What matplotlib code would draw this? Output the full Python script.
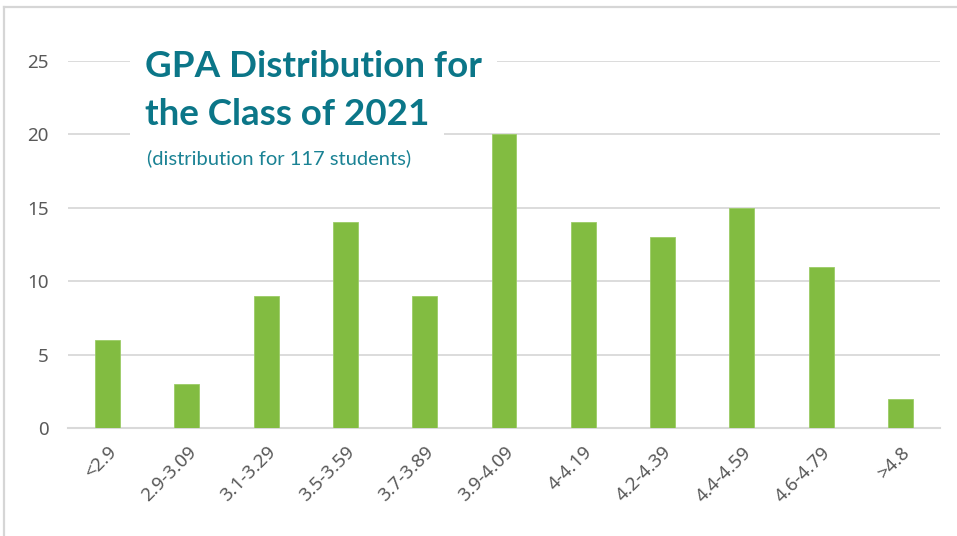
import matplotlib
matplotlib.use("Agg")
import matplotlib.pyplot as plt
from matplotlib.lines import Line2D

categories = ["<2.9", "2.9-3.09", "3.1-3.29", "3.5-3.59", "3.7-3.89", "3.9-4.09",
              "4-4.19", "4.2-4.39", "4.4-4.59", "4.6-4.79", ">4.8"]
counts = [6, 3, 9, 14, 9, 20, 14, 13, 15, 11, 2]
yticks = [0, 5, 10, 15, 20, 25]

W, H = 957, 536
fig = plt.figure(figsize=(W / 100, H / 100), dpi=100)
fig.patch.set_facecolor("white")
ax = fig.add_axes([68 / W, 1 - 428 / H, (940 - 68) / W, (428 - 61) / H])

x = range(len(categories))
ax.bar(x, counts, width=0.315, color="#82bc41", edgecolor="#9ccc66", linewidth=0.6, zorder=3)
ax.set_xlim(-0.5, len(categories) - 0.5)
ax.set_ylim(0, 25)
ax.set_yticks(yticks)
ax.set_yticklabels([str(v) for v in yticks])
ax.set_xticks(list(x))
ax.set_xticklabels(categories, rotation=45, ha="right", rotation_mode="anchor")
ax.grid(axis="y", color="#d9d9d9", linewidth=1.3, zorder=0)
ax.set_axisbelow(True)
for s in ["top", "right", "left"]:
    ax.spines[s].set_visible(False)
ax.spines["bottom"].set_color("#d9d9d9")
ax.spines["bottom"].set_linewidth(1.5)
ax.tick_params(axis="both", length=0, labelsize=13.5, labelcolor="#595959")
ax.tick_params(axis="y", pad=14)
ax.tick_params(axis="x", pad=11)
for lbl in ax.get_yticklabels() + ax.get_xticklabels():
    lbl.set_family(["Noto Sans", "DejaVu Sans"])

# frame lines (left and top)
fig.add_artist(Line2D([4 / W, 4 / W], [0, 1 - 6.5 / H], color="#d6d6d6", linewidth=1.6,
                      transform=fig.transFigure))
fig.add_artist(Line2D([4 / W, 1], [1 - 6.5 / H, 1 - 6.5 / H], color="#d6d6d6", linewidth=1.6,
                      transform=fig.transFigure))

title_color = "#0b7688"
bbox = dict(boxstyle="square,pad=0.4", facecolor="white", edgecolor="none")
fig.text(145 / W, 1 - 77 / H, "GPA Distribution for", fontsize=26.5, fontweight="bold",
         color=title_color, family=["Lato", "DejaVu Sans"], va="baseline", ha="left",
         bbox=bbox, zorder=5)
fig.text(145 / W, 1 - 125 / H, "the Class of 2021", fontsize=26.5, fontweight="bold",
         color=title_color, family=["Lato", "DejaVu Sans"], va="baseline", ha="left",
         bbox=bbox, zorder=5)
fig.text(147 / W, 1 - 164 / H, "(distribution for 117 students)", fontsize=14.5,
         color="#1a8294", family=["Lato", "DejaVu Sans"], va="baseline", ha="left", zorder=5)

fig.savefig("out.png", dpi=100, facecolor="white")
